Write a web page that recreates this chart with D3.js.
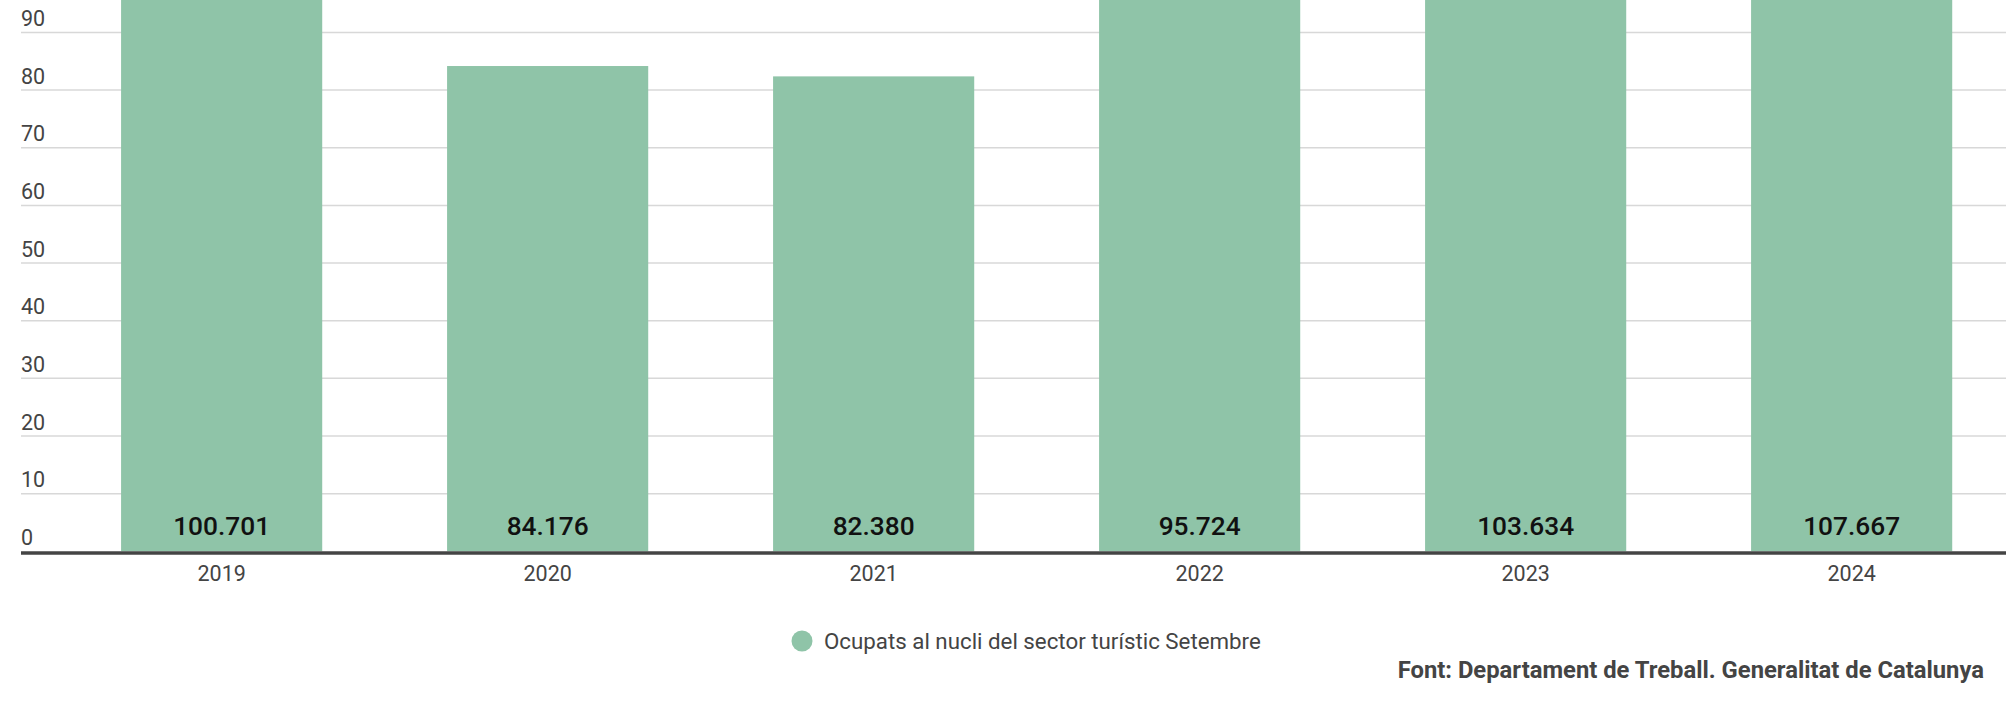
<!DOCTYPE html>
<html>
<head>
<meta charset="utf-8">
<script src="https://cdn.jsdelivr.net/npm/d3@7"></script>
<style>
  html, body { margin: 0; padding: 0; background: #fff; }
  svg { display: block; font-family: Roboto, "Noto Sans", sans-serif; }
</style>
</head>
<body>
<svg id="chart" width="2006" height="702"></svg>
<script>
const categories = ["2019", "2020", "2021", "2022", "2023", "2024"];
const values = [100.701, 84.176, 82.380, 95.724, 103.634, 107.667];
const valueLabels = ["100.701", "84.176", "82.380", "95.724", "103.634", "107.667"];
const yTicks = [0, 10, 20, 30, 40, 50, 60, 70, 80, 90];
const seriesName = "Ocupats al nucli del sector turístic Setembre";
const sourceText = "Font: Departament de Treball. Generalitat de Catalunya";

const W = 2006, H = 702;
const svg = d3.select("#chart");

const left = 21;
const baseY = 551.3;
const pxPerUnit = 5.765;

const y = d3.scaleLinear().domain([0, baseY / pxPerUnit]).range([baseY, 0]);
const x = d3.scaleBand().domain(categories)
  .range([left, left + 326 * 6.231])
  .paddingInner(0.383)
  .paddingOuter(0.307);

// gridlines
svg.append("g").selectAll("line").data(yTicks.filter(d => d !== 0)).join("line")
  .attr("x1", left).attr("x2", W)
  .attr("y1", d => y(d)).attr("y2", d => y(d))
  .attr("stroke", "#d8d8d8").attr("stroke-width", 1.5);

// y labels
svg.append("g").selectAll("text").data(yTicks).join("text")
  .attr("x", left).attr("y", d => y(d) - 6.5)
  .attr("fill", "#444").attr("font-size", 21.5)
  .text(d => d);

// bars
svg.append("g").selectAll("rect").data(values).join("rect")
  .attr("x", (d, i) => x(categories[i]))
  .attr("width", x.bandwidth())
  .attr("y", d => y(d))
  .attr("height", d => y(0) - y(d))
  .attr("fill", "#8fc4a8");

// value labels
svg.append("g").selectAll("text").data(values).join("text")
  .attr("x", (d, i) => x(categories[i]) + x.bandwidth() / 2)
  .attr("y", y(0) - 16)
  .attr("text-anchor", "middle")
  .attr("fill", "#111")
  .attr("font-size", 26.3)
  .attr("font-weight", 500)
  .text((d, i) => valueLabels[i]);

// x axis line
svg.append("line")
  .attr("x1", left).attr("x2", W)
  .attr("y1", y(0) + 1.7).attr("y2", y(0) + 1.7)
  .attr("stroke", "#444").attr("stroke-width", 3.5);

// category labels
svg.append("g").selectAll("text").data(categories).join("text")
  .attr("x", d => x(d) + x.bandwidth() / 2)
  .attr("y", 581)
  .attr("text-anchor", "middle")
  .attr("fill", "#444").attr("font-size", 21.5)
  .text(d => d);

// legend
const lg = svg.append("g");
lg.append("circle").attr("cx", 802).attr("cy", 641).attr("r", 10.5).attr("fill", "#8fc4a8");
lg.append("text").attr("x", 824).attr("y", 649)
  .attr("fill", "#444").attr("font-size", 22.3).text(seriesName);

// source
svg.append("text").attr("x", 1984).attr("y", 677.5)
  .attr("text-anchor", "end").attr("fill", "#444")
  .attr("font-size", 23.8).attr("font-weight", 700)
  .text(sourceText);
</script>
</body>
</html>
